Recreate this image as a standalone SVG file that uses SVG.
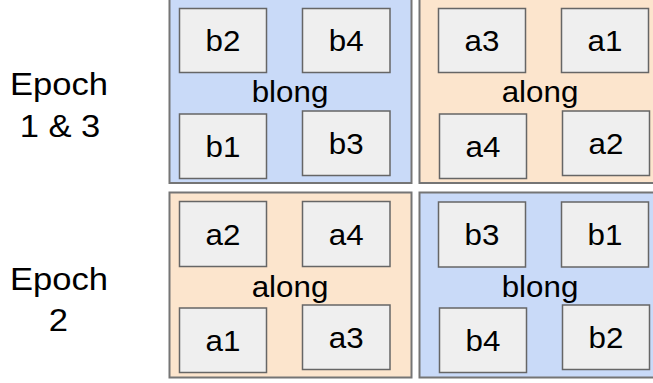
<svg xmlns="http://www.w3.org/2000/svg" width="653" height="383" viewBox="0 0 653 383">
<style>
text{font-family:"Liberation Sans",Arial,sans-serif;fill:#000;text-anchor:middle;transform-box:fill-box;transform-origin:center;transform:scaleX(1.08)}
.ep{font-size:32px}
.lb{font-size:29px}
.panel{stroke:#757575;stroke-width:2}
.blue{fill:#c9daf8}
.orange{fill:#fce5cd}
.box{fill:#efefef;stroke:#666;stroke-width:1.5}
</style>
<rect width="653" height="383" fill="#fff"/>
<g id="epoch13">
<text class="ep" x="59" y="95.2">Epoch</text>
<text class="ep" x="60" y="137">1 &amp; 3</text>
</g>
<g id="epoch2">
<text class="ep" x="59" y="289.8">Epoch</text>
<text class="ep" x="58.5" y="331.5">2</text>
</g>
<g id="e1-blong">
<rect class="panel blue" x="169.5" y="-2" width="242" height="185"/>
<text class="lb" x="290" y="101.7">blong</text>
<g id="e1-b2"><rect class="box" x="179.5" y="8.5" width="87" height="64"/><text class="lb" x="223" y="51.2">b2</text></g>
<g id="e1-b4"><rect class="box" x="302.5" y="8.5" width="87.5" height="64"/><text class="lb" x="346.2" y="51.2">b4</text></g>
<g id="e1-b1"><rect class="box" x="179.5" y="114" width="87" height="64.5"/><text class="lb" x="223" y="157">b1</text></g>
<g id="e1-b3"><rect class="box" x="302.5" y="111" width="87.5" height="64.5"/><text class="lb" x="346.2" y="154">b3</text></g>
</g>
<g id="e1-along">
<rect class="panel orange" x="419.5" y="-2" width="240" height="185"/>
<text class="lb" x="540" y="101.7">along</text>
<g id="e1-a3"><rect class="box" x="438.5" y="8.5" width="87" height="64"/><text class="lb" x="482" y="51.2">a3</text></g>
<g id="e1-a1"><rect class="box" x="561.5" y="8.5" width="87" height="64"/><text class="lb" x="605" y="51.2">a1</text></g>
<g id="e1-a4"><rect class="box" x="439.5" y="114" width="87" height="64.5"/><text class="lb" x="483" y="157">a4</text></g>
<g id="e1-a2"><rect class="box" x="562.5" y="111" width="87" height="64.5"/><text class="lb" x="606" y="154">a2</text></g>
</g>
<g id="e2-along">
<rect class="panel orange" x="169.5" y="192.5" width="242" height="185"/>
<text class="lb" x="290" y="296.7">along</text>
<g id="e2-a2"><rect class="box" x="179.5" y="201.5" width="87" height="65"/><text class="lb" x="223" y="244.8">a2</text></g>
<g id="e2-a4"><rect class="box" x="302.5" y="201.5" width="87.5" height="65"/><text class="lb" x="346.2" y="244.8">a4</text></g>
<g id="e2-a1"><rect class="box" x="179.5" y="308" width="87" height="64.5"/><text class="lb" x="223" y="351">a1</text></g>
<g id="e2-a3"><rect class="box" x="302.5" y="305" width="87.5" height="64.5"/><text class="lb" x="346.2" y="348">a3</text></g>
</g>
<g id="e2-blong">
<rect class="panel blue" x="419.5" y="192.5" width="240" height="185"/>
<text class="lb" x="540" y="296.7">blong</text>
<g id="e2-b3"><rect class="box" x="438.5" y="202" width="87" height="65"/><text class="lb" x="482" y="245.3">b3</text></g>
<g id="e2-b1"><rect class="box" x="561.5" y="202" width="87" height="65"/><text class="lb" x="605" y="245.3">b1</text></g>
<g id="e2-b4"><rect class="box" x="439.5" y="308" width="87" height="64.5"/><text class="lb" x="483" y="351">b4</text></g>
<g id="e2-b2"><rect class="box" x="562.5" y="305" width="87" height="64.5"/><text class="lb" x="606" y="348">b2</text></g>
</g>
<g id="connectors"/>
</svg>
